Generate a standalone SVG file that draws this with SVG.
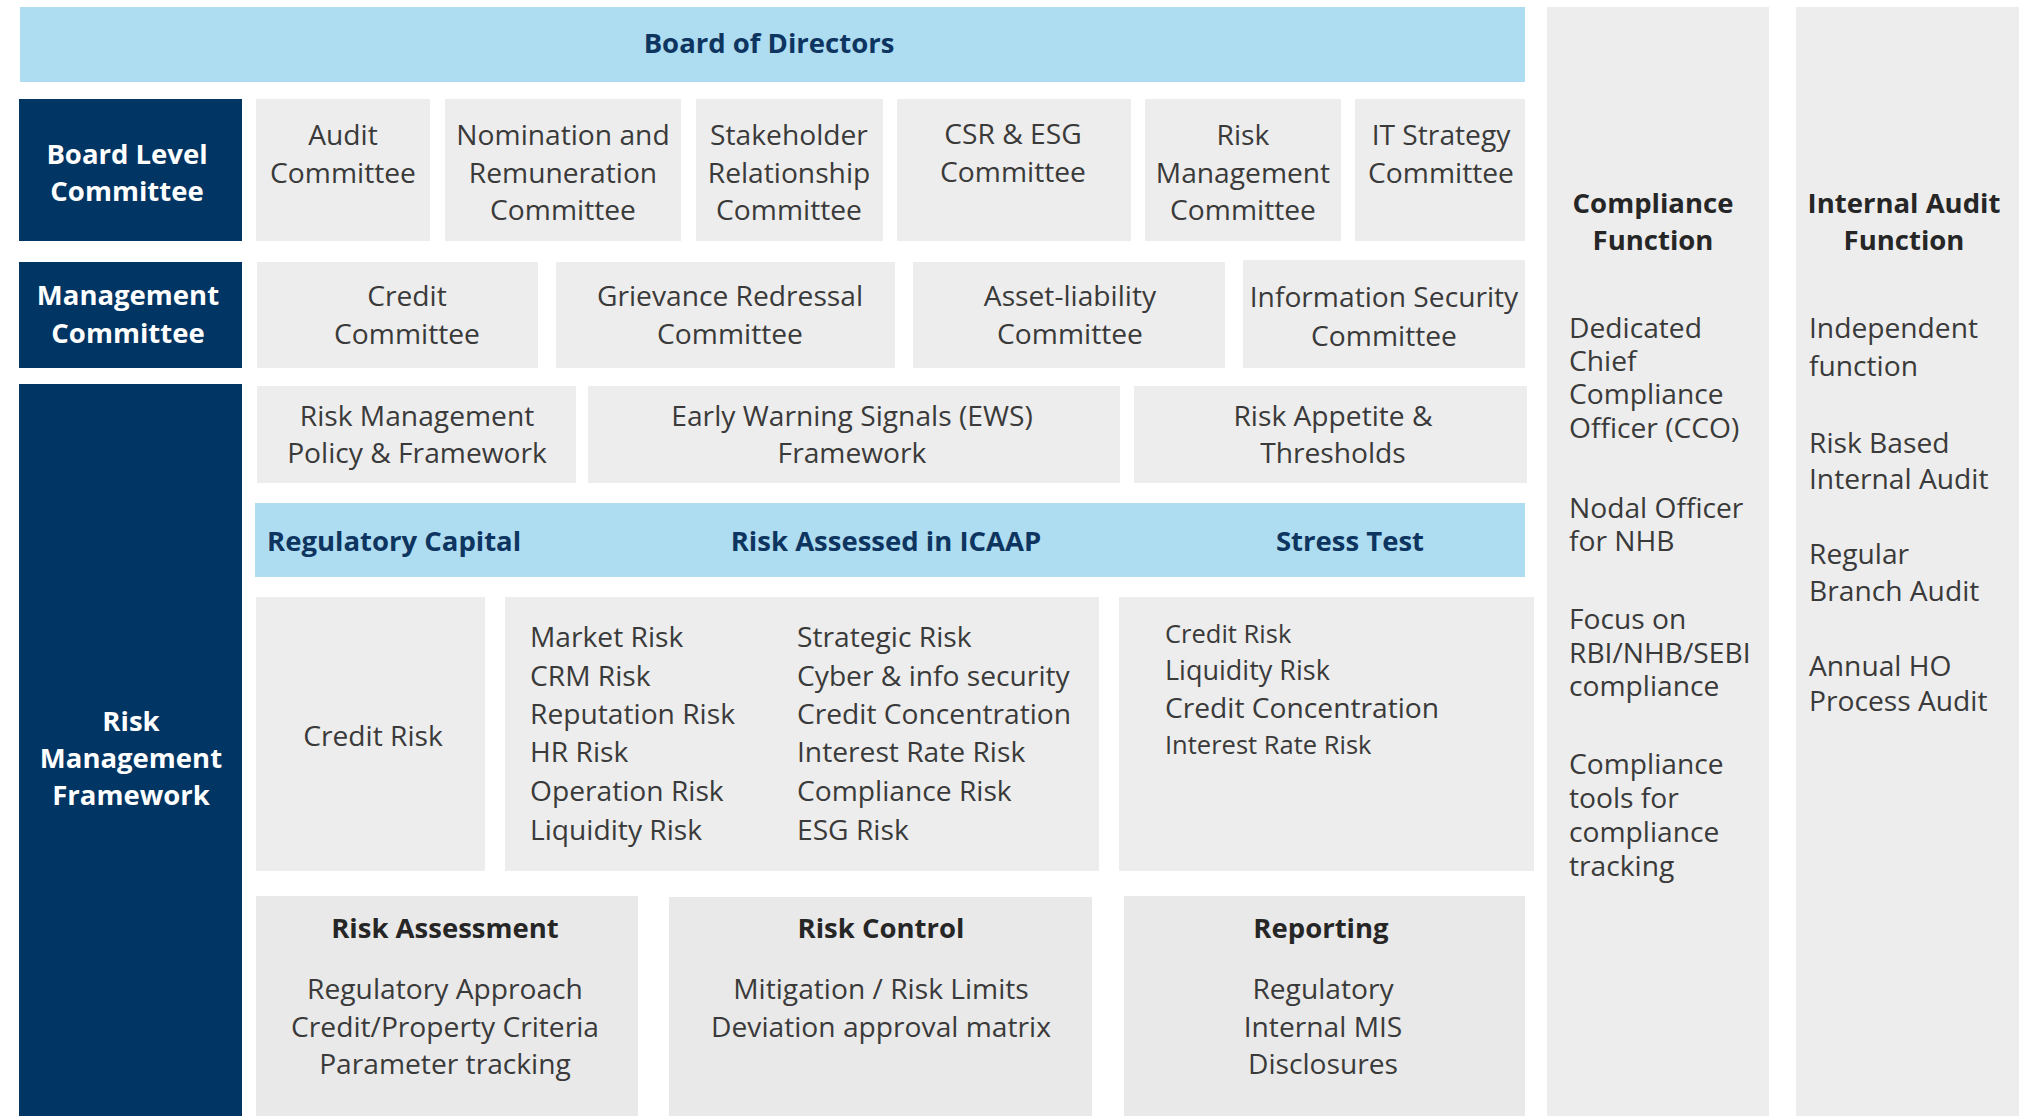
<svg xmlns="http://www.w3.org/2000/svg" width="2026" height="1116" viewBox="0 0 2026 1116">
<style>
text{font-family:"Open Sans","Noto Sans","Liberation Sans",sans-serif;font-size:28.2px;fill:#3a3a3a}
.c{text-anchor:middle}
.b{font-weight:bold}
.w{fill:#ffffff;font-weight:bold;font-size:27.5px}
.nv{fill:#0d3560;font-weight:bold;font-size:27.5px}
.h{fill:#262626;font-weight:bold;font-size:27.5px}
.blue{fill:#aedcf0}
.dark{fill:#013563}
.grey{fill:#ededed}
.grey2{fill:#e9e9e9}
</style>
<g id="connectors"></g>
<g id="board-of-directors"><rect class="blue" x="20" y="7" width="1505" height="75"/><text class="c nv" x="769" y="53">Board of Directors</text></g>
<g id="compliance-function"><rect class="grey" x="1547" y="7" width="222" height="1109"/>
<text class="c h" x="1653" y="213">Compliance</text><text class="c h" x="1653" y="250">Function</text>
<text x="1569" y="338">Dedicated</text><text x="1569" y="371">Chief</text><text x="1569" y="404">Compliance</text><text x="1569" y="438">Officer (CCO)</text>
<text x="1569" y="518">Nodal Officer</text><text x="1569" y="551">for NHB</text>
<text x="1569" y="629">Focus on</text><text x="1569" y="663">RBI/NHB/SEBI</text><text x="1569" y="696">compliance</text>
<text x="1569" y="774">Compliance</text><text x="1569" y="808">tools for</text><text x="1569" y="842">compliance</text><text x="1569" y="876">tracking</text>
</g>
<g id="internal-audit-function"><rect class="grey" x="1796" y="7" width="223" height="1109"/>
<text class="c h" x="1904" y="213">Internal Audit</text><text class="c h" x="1904" y="250">Function</text>
<text x="1809" y="338">Independent</text><text x="1809" y="376">function</text>
<text x="1809" y="453">Risk Based</text><text x="1809" y="489">Internal Audit</text>
<text x="1809" y="564">Regular</text><text x="1809" y="601">Branch Audit</text>
<text x="1809" y="676">Annual HO</text><text x="1809" y="711">Process Audit</text>
</g>
<g id="board-level-committee"><rect class="dark" x="19" y="99" width="223" height="142"/><text class="c w" x="127" y="164">Board Level</text><text class="c w" x="127" y="201">Committee</text></g>
<g id="audit-committee"><rect class="grey" x="256" y="99" width="174" height="142"/><text class="c" x="343" y="145">Audit</text><text class="c" x="343" y="183">Committee</text></g>
<g id="nomination-committee"><rect class="grey" x="445" y="99" width="236" height="142"/><text class="c" x="563" y="145">Nomination and</text><text class="c" x="563" y="183">Remuneration</text><text class="c" x="563" y="220">Committee</text></g>
<g id="stakeholder-committee"><rect class="grey" x="696" y="99" width="187" height="142"/><text class="c" x="789" y="145">Stakeholder</text><text class="c" x="789" y="183">Relationship</text><text class="c" x="789" y="220">Committee</text></g>
<g id="csr-esg-committee"><rect class="grey" x="897" y="99" width="234" height="142"/><text class="c" x="1013" y="144">CSR &amp; ESG</text><text class="c" x="1013" y="182">Committee</text></g>
<g id="risk-management-committee"><rect class="grey" x="1145" y="99" width="196" height="142"/><text class="c" x="1243" y="145">Risk</text><text class="c" x="1243" y="183">Management</text><text class="c" x="1243" y="220">Committee</text></g>
<g id="it-strategy-committee"><rect class="grey" x="1355" y="99" width="170" height="142"/><text class="c" x="1441" y="145">IT Strategy</text><text class="c" x="1441" y="183">Committee</text></g>
<g id="management-committee"><rect class="dark" x="19" y="262" width="223" height="106"/><text class="c w" x="128" y="305">Management</text><text class="c w" x="128" y="343">Committee</text></g>
<g id="credit-committee"><rect class="grey" x="257" y="262" width="281" height="106"/><text class="c" x="407" y="306">Credit</text><text class="c" x="407" y="344">Committee</text></g>
<g id="grievance-committee"><rect class="grey" x="556" y="262" width="339" height="106"/><text class="c" x="730" y="306">Grievance Redressal</text><text class="c" x="730" y="344">Committee</text></g>
<g id="alco-committee"><rect class="grey" x="913" y="262" width="312" height="106"/><text class="c" x="1070" y="306">Asset-liability</text><text class="c" x="1070" y="344">Committee</text></g>
<g id="infosec-committee"><rect class="grey" x="1243" y="260" width="282" height="108"/><text class="c" x="1384" y="307">Information Security</text><text class="c" x="1384" y="346">Committee</text></g>
<g id="risk-management-framework"><rect class="dark" x="19" y="384" width="223" height="732"/><text class="c w" x="131" y="731">Risk</text><text class="c w" x="131" y="768">Management</text><text class="c w" x="131" y="805">Framework</text></g>
<g id="rm-policy"><rect class="grey" x="257" y="386" width="319" height="97"/><text class="c" x="417" y="426">Risk Management</text><text class="c" x="417" y="463">Policy &amp; Framework</text></g>
<g id="ews"><rect class="grey" x="588" y="386" width="532" height="97"/><text class="c" x="852" y="426">Early Warning Signals (EWS)</text><text class="c" x="852" y="463">Framework</text></g>
<g id="risk-appetite"><rect class="grey" x="1134" y="386" width="393" height="97"/><text class="c" x="1333" y="426">Risk Appetite &amp;</text><text class="c" x="1333" y="463">Thresholds</text></g>
<g id="icaap-band"><rect class="blue" x="255" y="503" width="1270" height="74"/><text class="nv" x="267" y="551">Regulatory Capital</text><text class="c nv" x="886" y="551">Risk Assessed in ICAAP</text><text class="c nv" x="1350" y="551">Stress Test</text></g>
<g id="regulatory-capital-risks"><rect class="grey" x="256" y="597" width="229" height="274"/><text class="c" x="373" y="746">Credit Risk</text></g>
<g id="icaap-risks"><rect class="grey" x="505" y="597" width="594" height="274"/>
<text x="530" y="647">Market Risk</text><text x="530" y="685.5">CRM Risk</text><text x="530" y="724">Reputation Risk</text><text x="530" y="762">HR Risk</text><text x="530" y="801">Operation Risk</text><text x="530" y="840">Liquidity Risk</text>
<text x="797" y="647">Strategic Risk</text><text x="797" y="685.5">Cyber &amp; info security</text><text x="797" y="724">Credit Concentration</text><text x="797" y="762">Interest Rate Risk</text><text x="797" y="801">Compliance Risk</text><text x="797" y="840">ESG Risk</text>
</g>
<g id="stress-test-risks"><rect class="grey" x="1119" y="597" width="415" height="274"/>
<text x="1165" y="643" style="font-size:25.5px">Credit Risk</text><text x="1165" y="680" style="font-size:27px">Liquidity Risk</text><text x="1165" y="718" style="font-size:28.2px">Credit Concentration</text><text x="1165" y="754" style="font-size:25.5px">Interest Rate Risk</text>
</g>
<g id="risk-assessment"><rect class="grey2" x="256" y="896" width="382" height="220"/><text class="c h" x="445" y="938">Risk Assessment</text><text class="c" x="445" y="999">Regulatory Approach</text><text class="c" x="445" y="1037">Credit/Property Criteria</text><text class="c" x="445" y="1074">Parameter tracking</text></g>
<g id="risk-control"><rect class="grey2" x="669" y="897" width="423" height="219"/><text class="c h" x="881" y="938">Risk Control</text><text class="c" x="881" y="999">Mitigation / Risk Limits</text><text class="c" x="881" y="1037">Deviation approval matrix</text></g>
<g id="reporting"><rect class="grey2" x="1124" y="896" width="401" height="220"/><text class="c h" x="1321" y="938">Reporting</text><text class="c" x="1323" y="999">Regulatory</text><text class="c" x="1323" y="1037">Internal MIS</text><text class="c" x="1323" y="1074">Disclosures</text></g>
</svg>
